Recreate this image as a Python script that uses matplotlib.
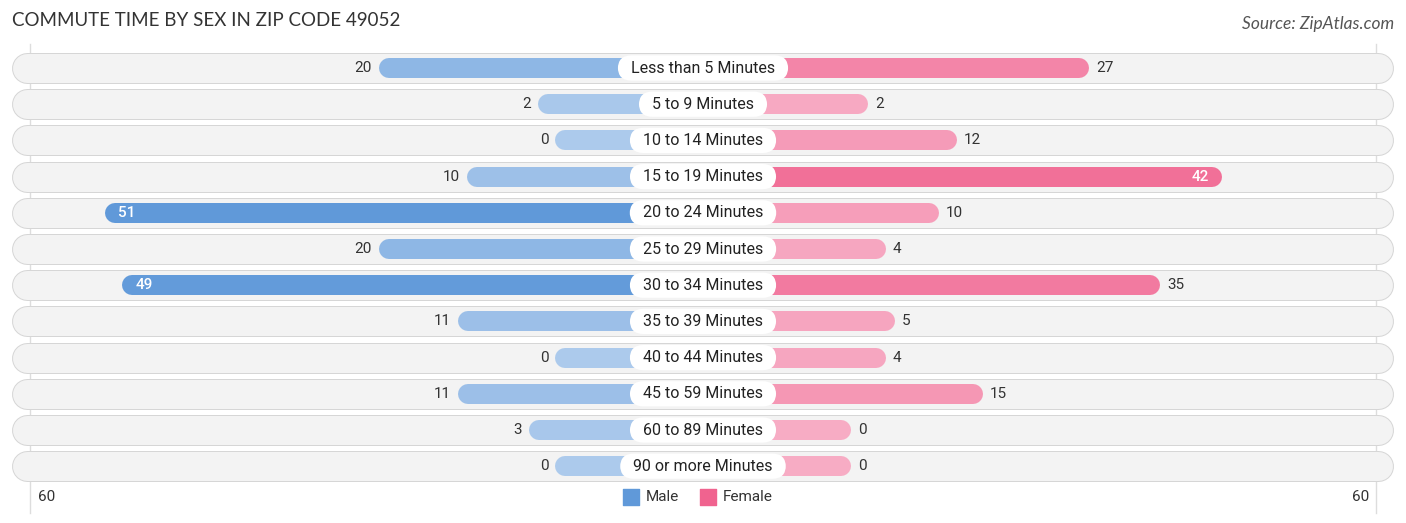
import numpy as np
import matplotlib
matplotlib.use("Agg")
import matplotlib.pyplot as plt

categories = ["Less than 5 Minutes", "5 to 9 Minutes", "10 to 14 Minutes",
              "15 to 19 Minutes", "20 to 24 Minutes", "25 to 29 Minutes",
              "30 to 34 Minutes", "35 to 39 Minutes", "40 to 44 Minutes",
              "45 to 59 Minutes", "60 to 89 Minutes", "90 or more Minutes"]
male = [20, 2, 0, 10, 51, 20, 49, 11, 0, 11, 3, 0]
female = [27, 2, 12, 42, 10, 4, 35, 5, 4, 15, 0, 0]
axis_max = 60

W, H = 1406, 523
PX = 8.84          # pixels per unit
CX = 703           # center pixel
OFF = 16.7         # minimum bar length (units), hidden under the label
ROW0, ROWSTEP = 68, 36.2

fig = plt.figure(figsize=(W / 100, H / 100), dpi=100)
ax = fig.add_axes([0, 0, 1, 1])
ax.set_xlim(-CX / PX, (W - CX) / PX)
ax.set_ylim((H - ROW0) / ROWSTEP, -ROW0 / ROWSTEP)
ax.axis("off")

u = 1.0 / PX  # one pixel in data units
pt = 0.72     # points per pixel

male_lo, male_hi = np.array([172, 202, 236]) / 255, np.array([96, 153, 217]) / 255
fem_lo, fem_hi = np.array([247, 172, 196]) / 255, np.array([240, 99, 143]) / 255
vmax = max(max(male), max(female))

# grid lines at the 60 marks
for s in (-1, 1):
    ax.plot([s * (axis_max + OFF - 0.6)] * 2, [-0.65, 12.3], color="#dddddd", lw=1, zorder=0)

font = "Roboto"
for i, cat in enumerate(categories):
    # row background pill
    xl, xr = (12 - CX) * u + 15 * u, (1393 - CX) * u - 15 * u
    ax.plot([xl, xr], [i, i], color="#d6d6d6", lw=31 * pt, solid_capstyle="round", zorder=1)
    ax.plot([xl, xr], [i, i], color="#f3f3f3", lw=29 * pt, solid_capstyle="round", zorder=1.1)

    m, f = male[i], female[i]
    cm = male_lo + (male_hi - male_lo) * (m / vmax)
    cf = fem_lo + (fem_hi - fem_lo) * (f / vmax)
    me = -(m + OFF)
    fe = f + OFF
    ax.plot([0, me + 10 * u], [i, i], color=cm, lw=20 * pt, solid_capstyle="round", zorder=2)
    ax.plot([0, fe - 10 * u], [i, i], color=cf, lw=20 * pt, solid_capstyle="round", zorder=2)

    if m >= 40:
        ax.text(me + 13 * u, i, str(m), ha="left", va="center", color="white",
                fontsize=11, fontweight="medium", family=font, zorder=4)
    else:
        ax.text(me - 7 * u, i, str(m), ha="right", va="center", color="#333333",
                fontsize=11, family=font, zorder=4)
    if f >= 40:
        ax.text(fe - 13 * u, i, str(f), ha="right", va="center", color="white",
                fontsize=11, fontweight="medium", family=font, zorder=4)
    else:
        ax.text(fe + 7 * u, i, str(f), ha="left", va="center", color="#333333",
                fontsize=11, family=font, zorder=4)

    ax.text(0, i, "  " + cat + "  ", ha="center", va="center", fontsize=11.5, color="#222222",
            family=font, zorder=5,
            bbox=dict(boxstyle="round,pad=0.32,rounding_size=0.85", fc="white", ec="none"))

# bottom axis labels
yb = (497 - ROW0) / ROWSTEP
ax.text((38 - CX) * u, yb, str(axis_max), ha="left", va="center", fontsize=11,
        color="#333333", family=font)
ax.text((1369 - CX) * u, yb, str(axis_max), ha="right", va="center", fontsize=11,
        color="#333333", family=font)

# legend
for xpx, col, lab in ((623, male_hi, "Male"), (700, fem_hi, "Female")):
    ax.scatter([(xpx + 8 - CX) * u], [yb], marker="s", s=(16 * pt) ** 2, color=col, zorder=5)
    ax.text((xpx + 23 - CX) * u, yb, lab, ha="left", va="center", fontsize=11,
            color="#333333", family=font)

fig.text(12 / W, 1 - 21 / H, "COMMUTE TIME BY SEX IN ZIP CODE 49052", ha="left", va="center",
         fontsize=13.5, color="#333333", family="Lato")
fig.text(1394 / W, 1 - 24 / H, "Source: ZipAtlas.com", ha="right", va="center",
         fontsize=12.5, color="#555555", style="italic", family="Lato")

fig.savefig("out.png", dpi=100)
